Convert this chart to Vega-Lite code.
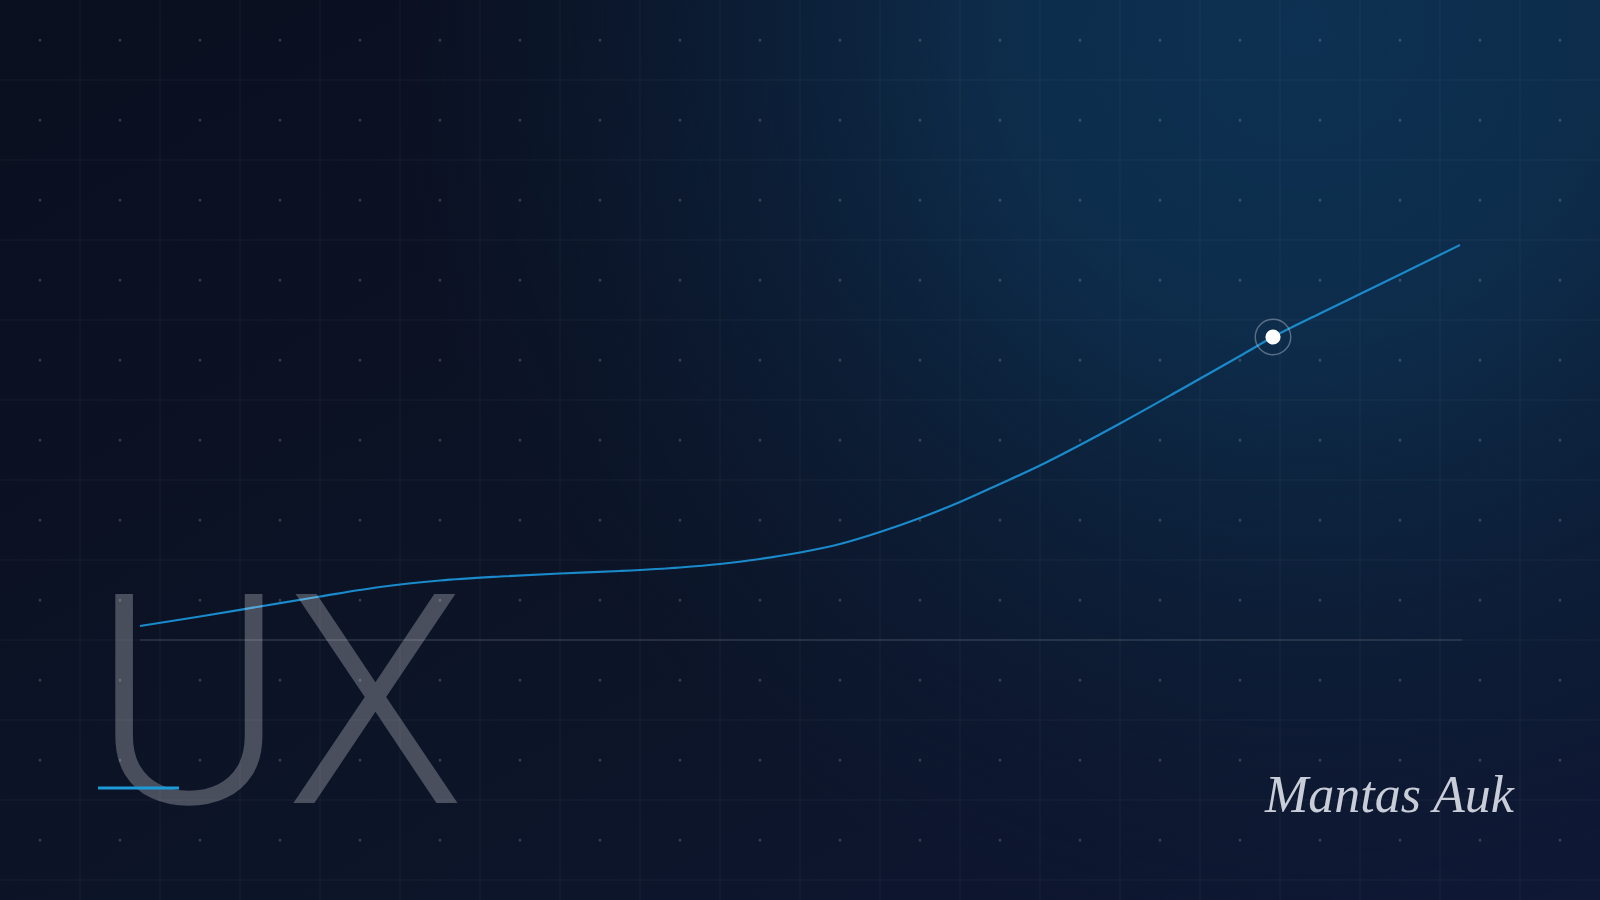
{
  "$schema": "https://vega.github.io/schema/vega-lite/v6.json",
  "width": 1600,
  "height": 900,
  "padding": 0,
  "autosize": {"type": "fit", "contains": "padding"},
  "background": "#0b1222",
  "config": {"view": {"stroke": null}},
  "datasets": {
    "bg": [{"x": -0.5, "x2": 20.5, "y": -0.5, "y2": 11.75}],
    "vgrid": [{"x": 1}, {"x": 2}, {"x": 3}, {"x": 4}, {"x": 5}, {"x": 6}, {"x": 7}, {"x": 8}, {"x": 9}, {"x": 10}, {"x": 11}, {"x": 12}, {"x": 13}, {"x": 14}, {"x": 15}, {"x": 16}, {"x": 17}, {"x": 18}, {"x": 19}],
    "hgrid": [{"y": 0.25}, {"y": 1.25}, {"y": 2.25}, {"y": 3.25}, {"y": 4.25}, {"y": 5.25}, {"y": 6.25}, {"y": 7.25}, {"y": 8.25}, {"y": 9.25}, {"y": 10.25}],
    "dotcols": [{"x": 0.5}, {"x": 1.5}, {"x": 2.5}, {"x": 3.5}, {"x": 4.5}, {"x": 5.5}, {"x": 6.5}, {"x": 7.5}, {"x": 8.5}, {"x": 9.5}, {"x": 10.5}, {"x": 11.5}, {"x": 12.5}, {"x": 13.5}, {"x": 14.5}, {"x": 15.5}, {"x": 16.5}, {"x": 17.5}, {"x": 18.5}, {"x": 19.5}],
    "baseline": [{"x": 1.75, "x2": 18.275, "y": 3.25}],
    "curve": [
      {"x": 1.75, "y": 3.425},
      {"x": 2.5, "y": 3.54375},
      {"x": 3.25, "y": 3.66875},
      {"x": 4.0, "y": 3.79375},
      {"x": 4.75, "y": 3.9125},
      {"x": 5.5, "y": 3.99375},
      {"x": 6.25, "y": 4.04375},
      {"x": 7.0, "y": 4.08125},
      {"x": 7.75, "y": 4.1125},
      {"x": 8.5, "y": 4.15625},
      {"x": 9.0, "y": 4.2},
      {"x": 9.5, "y": 4.2625},
      {"x": 10.0, "y": 4.34375},
      {"x": 10.5, "y": 4.45},
      {"x": 11.0, "y": 4.6},
      {"x": 11.5, "y": 4.775},
      {"x": 12.0, "y": 4.975},
      {"x": 12.5, "y": 5.2},
      {"x": 13.0, "y": 5.43125},
      {"x": 13.5, "y": 5.6875},
      {"x": 14.0, "y": 5.95625},
      {"x": 14.75, "y": 6.375},
      {"x": 15.5, "y": 6.8},
      {"x": 15.9125, "y": 7.0375},
      {"x": 16.5, "y": 7.33125},
      {"x": 17.0, "y": 7.575},
      {"x": 17.5, "y": 7.81875},
      {"x": 18.25, "y": 8.1875}
    ],
    "marker": [{"x": 15.9125, "y": 7.0375}],
    "underline": [{"x": 1.225, "x2": 2.2375, "y": 1.4}],
    "title": [{"x": 1.15, "y": 1.2125, "text": "UX"}],
    "signature": [{"x": 15.8125, "y": 1.1, "text": "Mantas Auk"}]
  },
  "layer": [
    {
      "data": {"name": "bg"},
      "mark": {"type": "rect", "clip": true, "fill": {"gradient": "linear", "x1": 0, "y1": 0, "x2": 1, "y2": 1, "stops": [{"offset": 0, "color": "#0a0f1f"}, {"offset": 0.55, "color": "#0c1427"}, {"offset": 1, "color": "#0f1836"}]}},
      "encoding": {
        "x": {"field": "x", "type": "quantitative", "scale": {"domain": [0, 20], "nice": false, "zero": false}, "axis": null},
        "x2": {"field": "x2"},
        "y": {"field": "y", "type": "quantitative", "scale": {"domain": [0, 11.25], "nice": false, "zero": false}, "axis": null},
        "y2": {"field": "y2"}
      }
    },
    {
      "data": {"name": "bg"},
      "mark": {"type": "rect", "clip": true, "fill": {"gradient": "radial", "x1": 0.8, "y1": 0.25, "r1": 0, "x2": 0.8, "y2": 0.25, "r2": 0.54, "stops": [{"offset": 0, "color": "rgba(13,49,82,1)"}, {"offset": 0.35, "color": "rgba(13,45,76,0.95)"}, {"offset": 0.7, "color": "rgba(12,34,60,0.5)"}, {"offset": 1, "color": "rgba(12,28,52,0)"}]}},
      "encoding": {
        "x": {"field": "x", "type": "quantitative", "axis": null},
        "x2": {"field": "x2"},
        "y": {"field": "y", "type": "quantitative", "axis": null},
        "y2": {"field": "y2"}
      }
    },
    {
      "data": {"name": "vgrid"},
      "mark": {"type": "rule", "clip": true, "stroke": "#ffffff", "strokeOpacity": 0.05, "strokeWidth": 1},
      "encoding": {"x": {"field": "x", "type": "quantitative", "axis": null}}
    },
    {
      "data": {"name": "hgrid"},
      "mark": {"type": "rule", "clip": true, "stroke": "#ffffff", "strokeOpacity": 0.05, "strokeWidth": 1},
      "encoding": {"y": {"field": "y", "type": "quantitative", "axis": null}}
    },
    {
      "data": {"name": "dotcols"},
      "mark": {"type": "rule", "clip": true, "stroke": "#ffffff", "strokeOpacity": 0.18, "strokeWidth": 2.6, "strokeCap": "round", "strokeDash": [0.5, 79.5], "strokeDashOffset": 40},
      "encoding": {"x": {"field": "x", "type": "quantitative", "axis": null}}
    },
    {
      "data": {"name": "baseline"},
      "mark": {"type": "rule", "stroke": "#ffffff", "strokeOpacity": 0.18, "strokeWidth": 1},
      "encoding": {
        "x": {"field": "x", "type": "quantitative", "axis": null},
        "x2": {"field": "x2"},
        "y": {"field": "y", "type": "quantitative", "axis": null}
      }
    },
    {
      "data": {"name": "curve"},
      "mark": {"type": "line", "stroke": "#1a8acb", "strokeWidth": 2.2, "interpolate": "monotone"},
      "encoding": {
        "x": {"field": "x", "type": "quantitative", "axis": null},
        "y": {"field": "y", "type": "quantitative", "axis": null}
      }
    },
    {
      "data": {"name": "marker"},
      "mark": {"type": "point", "shape": "circle", "filled": false, "size": 1260, "stroke": "#c0c8d4", "strokeOpacity": 0.6, "strokeWidth": 1.5},
      "encoding": {
        "x": {"field": "x", "type": "quantitative", "axis": null},
        "y": {"field": "y", "type": "quantitative", "axis": null}
      }
    },
    {
      "data": {"name": "marker"},
      "mark": {"type": "point", "shape": "circle", "filled": true, "size": 230, "fill": "#ffffff", "opacity": 1},
      "encoding": {
        "x": {"field": "x", "type": "quantitative", "axis": null},
        "y": {"field": "y", "type": "quantitative", "axis": null}
      }
    },
    {
      "data": {"name": "title"},
      "mark": {"type": "text", "font": "Roboto", "fontWeight": 300, "fontSize": 294, "align": "left", "baseline": "alphabetic", "fill": "#ffffff", "opacity": 0.25},
      "encoding": {
        "x": {"field": "x", "type": "quantitative", "axis": null},
        "y": {"field": "y", "type": "quantitative", "axis": null},
        "text": {"field": "text"}
      }
    },
    {
      "data": {"name": "underline"},
      "mark": {"type": "rule", "stroke": "#1e9ad8", "strokeWidth": 3},
      "encoding": {
        "x": {"field": "x", "type": "quantitative", "axis": null},
        "x2": {"field": "x2"},
        "y": {"field": "y", "type": "quantitative", "axis": null}
      }
    },
    {
      "data": {"name": "signature"},
      "mark": {"type": "text", "font": "Liberation Serif", "fontStyle": "italic", "fontSize": 52, "align": "left", "baseline": "alphabetic", "fill": "#c8cdd8"},
      "encoding": {
        "x": {"field": "x", "type": "quantitative", "axis": null},
        "y": {"field": "y", "type": "quantitative", "axis": null},
        "text": {"field": "text"}
      }
    }
  ]
}
